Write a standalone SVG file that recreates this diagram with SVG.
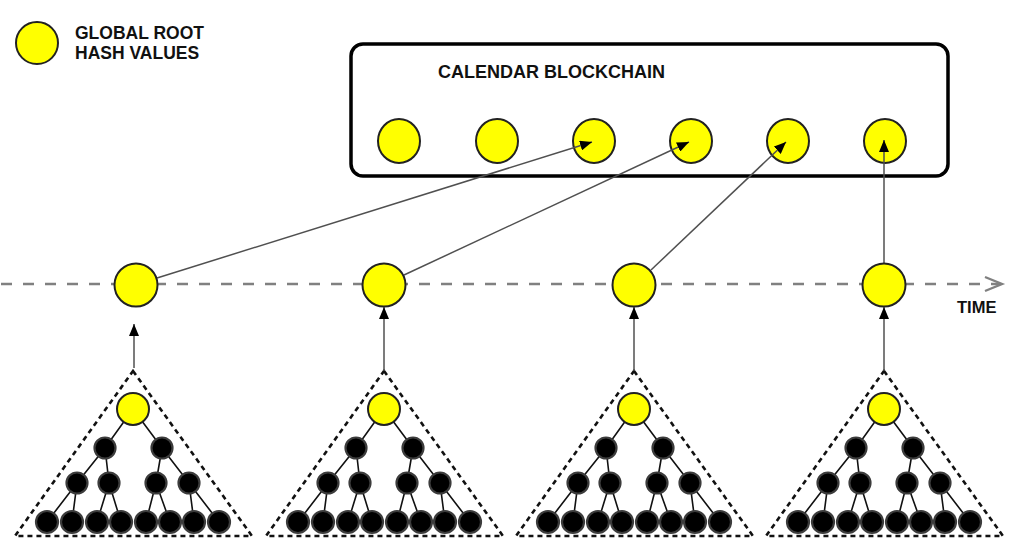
<svg xmlns="http://www.w3.org/2000/svg" xmlns:xlink="http://www.w3.org/1999/xlink" width="1024" height="556" viewBox="0 0 1024 556">
  <style>
    .lbl { font-family: "Liberation Sans", Arial, sans-serif; font-weight: bold; fill: #111; }
    .hash { fill: #ffff00; stroke: #222; stroke-width: 2; }
    .blk { fill: #000; stroke: #3c3c3c; stroke-width: 2.2; }
    .edge { stroke: #111; stroke-width: 1.6; fill: none; }
    .tri { fill: none; stroke: #111; stroke-width: 2.6; stroke-dasharray: 5 4; }
    .conn { stroke: #505050; stroke-width: 1.5; fill: none; }
    .time { stroke: #808080; stroke-width: 2.4; fill: none; }
  </style>
  <defs>
    <marker id="arr" markerUnits="userSpaceOnUse" markerWidth="12" markerHeight="10" refX="12" refY="5" orient="auto">
      <path d="M0,0 L12,5 L0,10 z" fill="#000"/>
    </marker>
    <g id="merkle">
      <path class="tri" d="M0,371 L119,536 L-118,536 Z"/>
      <g class="edge">
        <path d="M0,409 L-28,448 M0,409 L29,448"/>
        <path d="M-28,448 L-56,483 M-28,448 L-24,483 M29,448 L23,483 M29,448 L56,483"/>
        <path d="M-56,483 L-86,522 M-56,483 L-61,522 M-24,483 L-36,522 M-24,483 L-12,522"/>
        <path d="M23,483 L13,522 M23,483 L37,522 M56,483 L61,522 M56,483 L86,522"/>
      </g>
      <circle class="hash" cx="0" cy="409" r="16"/>
      <circle class="blk" cx="-28" cy="448" r="10.5"/>
      <circle class="blk" cx="29" cy="448" r="10.5"/>
      <circle class="blk" cx="-56" cy="483" r="10.5"/>
      <circle class="blk" cx="-24" cy="483" r="10.5"/>
      <circle class="blk" cx="23" cy="483" r="10.5"/>
      <circle class="blk" cx="56" cy="483" r="10.5"/>
      <circle class="blk" cx="-86" cy="522" r="11"/>
      <circle class="blk" cx="-61" cy="522" r="11"/>
      <circle class="blk" cx="-36" cy="522" r="11"/>
      <circle class="blk" cx="-12" cy="522" r="11"/>
      <circle class="blk" cx="13" cy="522" r="11"/>
      <circle class="blk" cx="37" cy="522" r="11"/>
      <circle class="blk" cx="61" cy="522" r="11"/>
      <circle class="blk" cx="86" cy="522" r="11"/>
    </g>
  </defs>

  <rect width="1024" height="556" fill="#fff"/>

  <g id="legend">
    <circle class="hash" cx="37" cy="43" r="21"/>
    <text class="lbl" x="75" y="39" font-size="17.5">GLOBAL ROOT</text>
    <text class="lbl" x="75" y="59" font-size="17.5">HASH VALUES</text>
  </g>

  <g id="calendar">
    <rect x="351" y="44" width="597" height="132" rx="12" fill="none" stroke="#000" stroke-width="3.5"/>
    <text class="lbl" x="438" y="78" font-size="18">CALENDAR BLOCKCHAIN</text>
    <g id="cal1"><ellipse class="hash" cx="399" cy="141" rx="21" ry="22"/></g>
    <g id="cal2"><ellipse class="hash" cx="497" cy="141" rx="21" ry="22"/></g>
    <g id="cal3"><ellipse class="hash" cx="594" cy="141" rx="21" ry="22"/></g>
    <g id="cal4"><ellipse class="hash" cx="691" cy="141" rx="21" ry="22"/></g>
    <g id="cal5"><ellipse class="hash" cx="788" cy="141" rx="21" ry="22"/></g>
    <g id="cal6"><ellipse class="hash" cx="885" cy="141" rx="21" ry="22"/></g>
  </g>

  <g id="timeline">
    <line class="time" x1="1" y1="284" x2="1000" y2="284" stroke-dasharray="11 11"/>
    <polyline class="time" points="985,277 1002,284 985,291" stroke-width="1.6"/>
    <text class="lbl" x="957" y="313" font-size="16.5">TIME</text>
  </g>

  <g id="trees">
    <g id="tree1"><use xlink:href="#merkle" href="#merkle" transform="translate(133,0)"/></g>
    <g id="tree2"><use xlink:href="#merkle" href="#merkle" transform="translate(384,0)"/></g>
    <g id="tree3"><use xlink:href="#merkle" href="#merkle" transform="translate(634,0)"/></g>
    <g id="tree4"><use xlink:href="#merkle" href="#merkle" transform="translate(884,0)"/></g>
  </g>

  <g id="connectors">
    <line class="conn" x1="157" y1="278" x2="592" y2="142" marker-end="url(#arr)"/>
    <line class="conn" x1="404" y1="275" x2="689" y2="142" marker-end="url(#arr)"/>
    <line class="conn" x1="651" y1="270" x2="786" y2="142" marker-end="url(#arr)"/>
    <line class="conn" x1="884" y1="264" x2="884" y2="140" marker-end="url(#arr)"/>
    <line class="conn" x1="134" y1="368" x2="134" y2="324" marker-end="url(#arr)"/>
    <line class="conn" x1="384" y1="371" x2="384" y2="307" marker-end="url(#arr)"/>
    <line class="conn" x1="634" y1="371" x2="634" y2="307" marker-end="url(#arr)"/>
    <line class="conn" x1="884" y1="371" x2="884" y2="307" marker-end="url(#arr)"/>
  </g>

  <g id="roots">
    <g id="root1"><circle class="hash" cx="136" cy="285" r="21.5"/></g>
    <g id="root2"><circle class="hash" cx="384" cy="285" r="21.5"/></g>
    <g id="root3"><circle class="hash" cx="634" cy="285" r="21.5"/></g>
    <g id="root4"><circle class="hash" cx="884" cy="285" r="21.5"/></g>
  </g>
</svg>
